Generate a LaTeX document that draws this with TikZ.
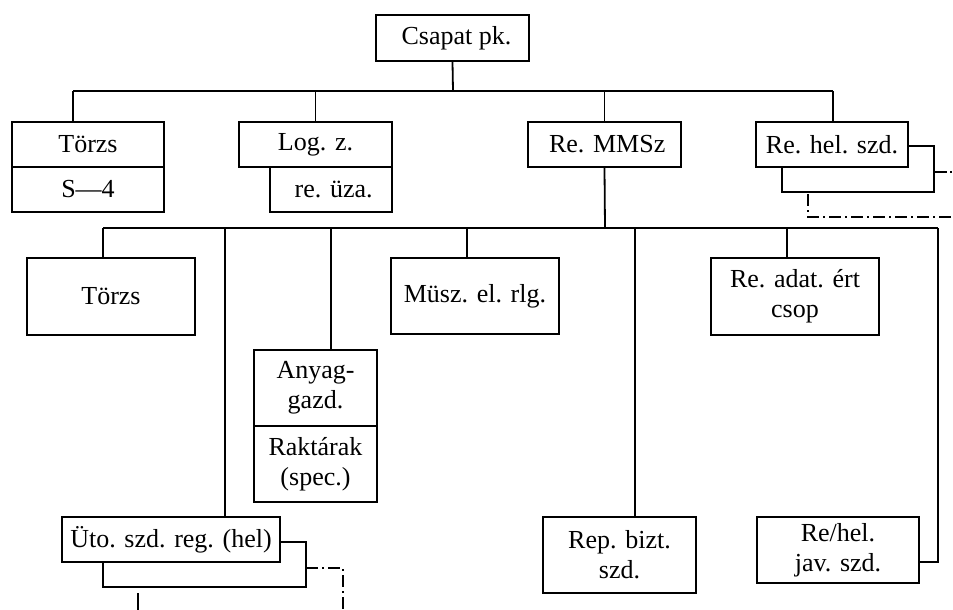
\documentclass[tikz,border=0pt]{standalone}
\usepackage{fontspec}
\setmainfont{Liberation Serif}
\begin{document}
\begin{tikzpicture}[x=0.75pt,y=-0.75pt,line width=1.35pt,
  box/.style={draw,rectangle,inner sep=0pt,align=center,font=\fontsize{19.5}{22.5}\selectfont},
  dashdot/.style={dash pattern=on 9pt off 3pt on 1.5pt off 3pt}]
\useasboundingbox (0,0) rectangle (953,610);
\newcommand\bx[6]{\node[box,minimum width={(#4-#2)*0.75pt},minimum height={(#5-#3)*0.75pt}] (#1) at ({(#2+#4)/2},{(#3+#5)/2}) {#6};}
% level 1
\bx{csapat}{376}{15}{529}{61}{\hspace*{6pt}Csapat pk.}
% level 2
\bx{torzsA}{12}{122}{164}{167}{\raisebox{-2pt}{Törzs}}
\bx{sfour}{12}{167}{164}{212}{S—4}
\bx{logz}{239}{122}{392}{167}{Log. z.}
\bx{reuza}{270}{167}{392}{212}{\hspace*{4pt}re. üza.}
\bx{remmsz}{528}{122}{681}{167}{\hspace*{4pt}Re. MMSz}
\bx{rehel}{756}{122}{908}{167}{Re. hel. szd.}
% level 3
\bx{torzsB}{27}{258}{195}{335}{\raisebox{-2pt}{Törzs}}
\bx{anyag}{254}{350}{377}{426}{Anyag-\\gazd.}
\bx{raktar}{254}{426}{377}{502}{Raktárak\\(spec.)}
\bx{musz}{391}{258}{559}{334}{Müsz. el. rlg.}
\bx{readat}{711}{258}{879}{335}{Re. adat. ért\\csop}
\bx{uto}{62}{517}{280}{562}{Üto. szd. reg. (hel)}
\bx{repbizt}{543}{517}{696}{593}{Rep. bizt.\\szd.}
\bx{rehelj}{757}{517}{919}{583}{Re/hel.\\jav. szd.}
% bus 1
\coordinate (b1) at (453,91);
\coordinate (b1L) at (73,91);
\coordinate (b1R) at (833,91);
\draw (csapat.south) -- (b1);
\draw (b1L) -- (b1R);
\draw (b1L) -- (b1L |- torzsA.north);
\draw (logz.north |- b1) -- (logz.north);
\draw (remmsz.north |- b1) -- (remmsz.north);
\draw (b1R) -- (b1R |- rehel.north);
% bus 2
\coordinate (b2) at (605,228);
\coordinate (c1) at (103,228);
\coordinate (c2) at (225,228);
\coordinate (c3) at (331,228);
\coordinate (c4) at (467,228);
\coordinate (c5) at (635,228);
\coordinate (c6) at (787,228);
\coordinate (c7) at (938,228);
\coordinate (c7b) at (938,562);
\draw (remmsz.south) -- (b2);
\draw (c1) -- (c7);
\draw (c1) -- (c1 |- torzsB.north);
\draw (c2) -- (c2 |- uto.north);
\draw (c3) -- (c3 |- anyag.north);
\draw (c4) -- (c4 |- musz.north);
\draw (c5) -- (c5 |- repbizt.north);
\draw (c6) -- (c6 |- readat.north);
\draw (c7) -- (c7b) -- (c7b -| rehelj.east);
% shadow of Re. hel. szd.
\coordinate (rh1) at (934,146);
\coordinate (rh2) at (934,192);
\coordinate (rh3) at (782,192);
\draw (rh1 -| rehel.east) -- (rh1) -- (rh2) -- (rh3) -- (rh3 |- rehel.south);
\coordinate (rh4) at (934,172);
\draw (rh4) -- (947,172);
\draw (950,172) -- (951.5,172);
\coordinate (rd1) at (808,194);
\coordinate (rd2) at (808,217);
\coordinate (rd3) at (953,217);
\draw[dashdot] (rd1) -- (rd2) -- (rd3);
% shadow of Uto. szd. reg.
\coordinate (us1) at (306,542);
\coordinate (us2) at (306,587);
\coordinate (us3) at (103,587);
\draw (us1 -| uto.east) -- (us1) -- (us2) -- (us3) -- (us3 |- uto.south);
\coordinate (ud1) at (306,568);
\coordinate (ud2) at (343,568);
\coordinate (ud3) at (343,610);
\draw[dashdot] (ud1) -- (ud2) -- (ud3);
\coordinate (ul1) at (138,593);
\coordinate (ul2) at (138,610);
\draw (ul1) -- (ul2);
\end{tikzpicture}
\end{document}
